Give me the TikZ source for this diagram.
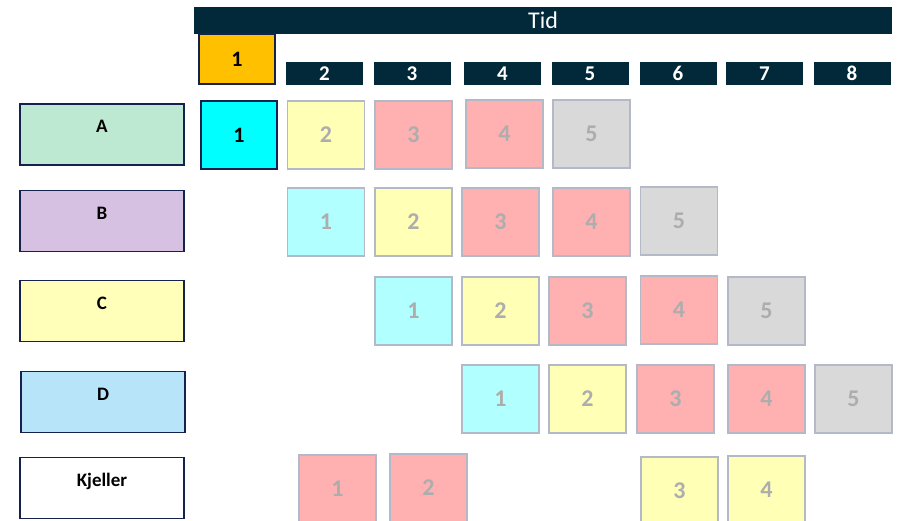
\documentclass[tikz,border=0pt]{standalone}
\usepackage{fontspec}
\setmainfont{Carlito}
\usepackage{xcolor}
\usetikzlibrary{positioning}
\definecolor{bardark}{HTML}{02293A}
\definecolor{edgedark}{HTML}{15224E}
\definecolor{edgegray}{HTML}{B4B9C8}
\definecolor{numgray}{HTML}{ADADAD}
\definecolor{slotorange}{HTML}{FFC000}
\definecolor{slotcyan}{HTML}{00FFFF}
\definecolor{cellcyan}{HTML}{B2FFFF}
\definecolor{cellyellow}{HTML}{FFFFB6}
\definecolor{cellpink}{HTML}{FFB0B0}
\definecolor{cellgray}{HTML}{D9D9D9}
\definecolor{lanemint}{HTML}{BDE8D2}
\definecolor{lanelilac}{HTML}{D6C1E3}
\definecolor{laneyellow}{HTML}{FFFFB9}
\definecolor{laneblue}{HTML}{B8E4F9}
\tikzset{
  timebar/.style  = {fill=bardark, draw=none, minimum width=698pt, minimum height=27pt,
                     inner sep=0pt, text=white, font=\fontsize{24}{24}\selectfont},
  tick/.style     = {fill=bardark, draw=none, minimum width=77pt, minimum height=23pt,
                     inner sep=0pt, text=white, font=\fontsize{21}{21}\selectfont\bfseries},
  lane/.style     = {draw=edgedark, line width=1.6pt, minimum width=164pt, inner sep=0pt,
                     text height=29pt, text depth=32pt, font=\fontsize{19}{19}\selectfont\bfseries},
  cell/.style     = {draw=edgegray, line width=1.5pt, minimum width=77pt, minimum height=68pt,
                     inner sep=0pt, text=numgray, font=\fontsize{24}{24}\selectfont\bfseries},
  nowcell/.style  = {draw=edgedark, line width=1.5pt, minimum width=76pt, inner sep=0pt,
                     text=black, font=\fontsize{22}{22}\selectfont\bfseries},
}
\begin{document}
\begin{tikzpicture}[x=1pt,y=-1pt]
  \useasboundingbox (0,0) rectangle (911,521);
  \clip (0,0) rectangle (911,521);
  % time axis
  \node[timebar] (tid) at (543,20.5) {Tid};
  \node[nowcell, fill=slotorange, minimum height=50pt] (t1) at (237,59) {1};
  \node[tick] (t2) at (324.5,73.5) {2};
  \node[tick] (t3) at (412,73.5) {3};
  \node[tick] (t4) at (502.5,73.5) {4};
  \node[tick] (t5) at (590,73.5) {5};
  \node[tick] (t6) at (678,73.5) {6};
  \node[tick] (t7) at (764.5,73.5) {7};
  \node[tick] (t8) at (852,73.5) {8};
  % lanes
  \node[lane, fill=lanemint]   (la) at (102,134.5) {A};
  \node[lane, fill=lanelilac]  (lb) at (102,221) {B};
  \node[lane, fill=laneyellow] (lc) at (102,311) {C};
  \node[lane, fill=laneblue]   (ld) at (103,402) {D};
  \node[lane, fill=white]      (lk) at (102,488) {Kjeller};
  % lane A
  \node[nowcell, fill=slotcyan, minimum height=68pt] (a1) at (239,135) {1};
  \node[cell, fill=cellyellow] (a2) at (326,135) {2};
  \node[cell, fill=cellpink]   (a3) at (413.5,135) {3};
  \node[cell, fill=cellpink]   (a4) at (504.5,134) {4};
  \node[cell, fill=cellgray]   (a5) at (591.5,134) {5};
  % lane B
  \node[cell, fill=cellcyan]   (b1) at (326,222) {1};
  \node[cell, fill=cellyellow] (b2) at (413.5,222) {2};
  \node[cell, fill=cellpink]   (b3) at (500.5,222) {3};
  \node[cell, fill=cellpink]   (b4) at (591.5,222) {4};
  \node[cell, fill=cellgray]   (b5) at (679,221) {5};
  % lane C
  \node[cell, fill=cellcyan]   (c1) at (413.5,311) {1};
  \node[cell, fill=cellyellow] (c2) at (500.5,311) {2};
  \node[cell, fill=cellpink]   (c3) at (587.5,311) {3};
  \node[cell, fill=cellpink]   (c4) at (679,310) {4};
  \node[cell, fill=cellgray]   (c5) at (766.5,311) {5};
  % lane D
  \node[cell, fill=cellcyan]   (d1) at (500.5,399) {1};
  \node[cell, fill=cellyellow] (d2) at (587.5,399) {2};
  \node[cell, fill=cellpink]   (d3) at (675.5,399) {3};
  \node[cell, fill=cellpink]   (d4) at (766.5,399) {4};
  \node[cell, fill=cellgray]   (d5) at (853.5,399) {5};
  % kjeller
  \node[cell, fill=cellpink]   (k1) at (337.5,489) {1};
  \node[cell, fill=cellpink]   (k2) at (428.5,488) {2};
  \node[cell, fill=cellyellow] (k3) at (679.5,491) {3};
  \node[cell, fill=cellyellow] (k4) at (766.5,490) {4};
\end{tikzpicture}
\end{document}
